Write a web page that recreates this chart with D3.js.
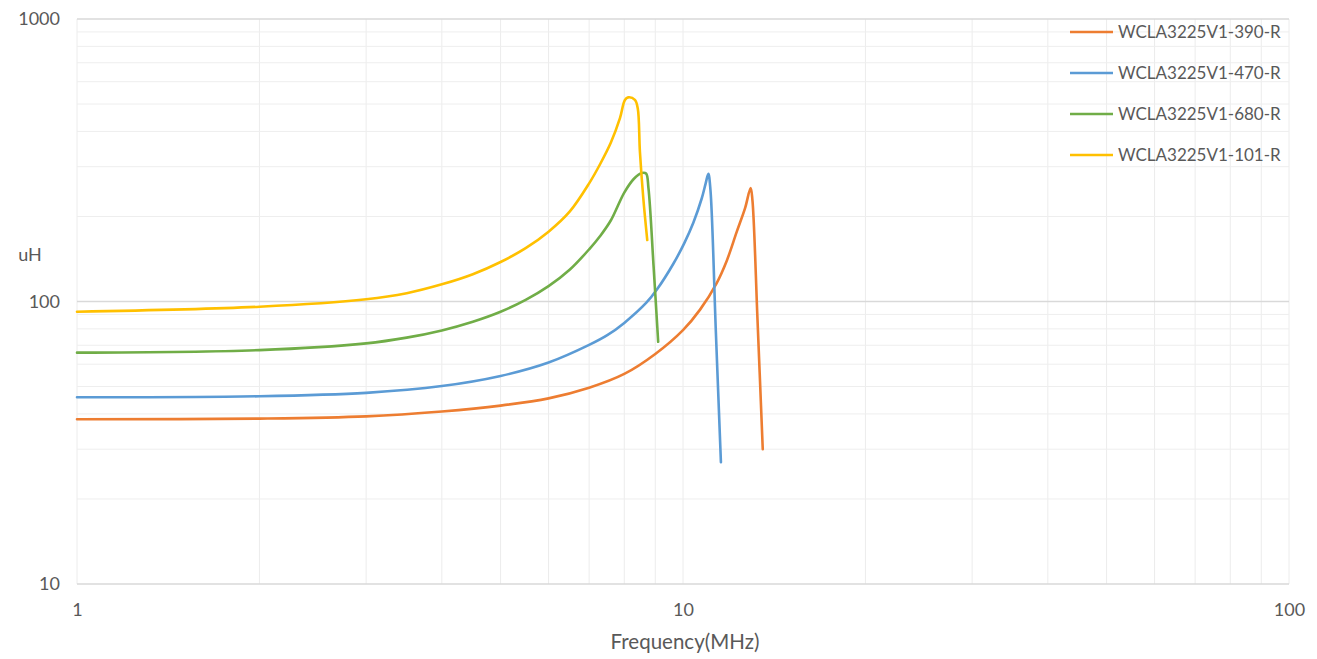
<!DOCTYPE html>
<html>
<head>
<meta charset="utf-8">
<script src="https://cdn.jsdelivr.net/npm/d3@7"></script>
<style>
  html, body { margin: 0; padding: 0; background: #fff; }
  svg { display: block; }
  text { font-family: Lato, "Open Sans", sans-serif; fill: #595959; }
</style>
</head>
<body>
<svg id="chart" width="1317" height="659"></svg>
<script>
// ---- data ----
const seriesNames = ["WCLA3225V1-390-R", "WCLA3225V1-470-R", "WCLA3225V1-680-R", "WCLA3225V1-101-R"];
const seriesColors = ["#ED7D31", "#5B9BD5", "#70AD47", "#FFC000"];

const freq390 = [1, 2, 3, 4, 5, 6, 7, 8, 9, 10, 10.67, 11.36, 11.81, 12.26, 12.66, 12.93, 13.02, 13.27, 13.54];
const val390  = [38.3, 38.5, 39.2, 40.8, 42.8, 45.4, 49.5, 55.4, 65.2, 79.2, 93.6, 116, 139.5, 176, 214, 252, 228, 87, 30];

const freq470 = [1, 2, 3, 4, 5, 6, 7, 7.5, 8, 8.7, 9.05, 9.64, 10.05, 10.4, 10.74, 10.9, 11.01, 11.1, 11.33, 11.55];
const val470  = [45.8, 46.2, 47.5, 50.2, 54.5, 60.8, 70.2, 76, 84, 99, 110, 136, 161, 190, 232, 262, 283, 248, 78, 27];

const freq680 = [1, 2, 3, 3.5, 4, 4.5, 5, 5.5, 6, 6.5, 7, 7.3, 7.6, 8, 8.3, 8.55, 8.69, 8.77, 8.94, 9.1];
const val680  = [65.9, 67.3, 71.1, 74.5, 79.0, 84.8, 92, 101.3, 113.3, 129.5, 153, 170.6, 193.5, 243, 272, 285, 284, 252, 134.6, 72];

const freq101 = [1, 2, 3, 3.5, 4, 4.5, 5, 5.5, 6, 6.5, 7, 7.3, 7.6, 7.87, 8.02, 8.12, 8.33, 8.42, 8.49, 8.6, 8.73];
const val101  = [92, 95.8, 101.8, 107, 115, 124.9, 138, 154.4, 176.6, 207.9, 261.9, 306.7, 364.6, 445.6, 517, 528, 517, 483, 339, 232, 165];

const xTickValues = [1, 10, 100];
const xTickLabels = ["1", "10", "100"];
const yTickValues = [10, 100, 1000];
const yTickLabels = ["10", "100", "1000"];
const xTitle = "Frequency(MHz)";
const yTitle = "uH";

// ---- layout ----
const svg = d3.select("#chart");
const mLeft = 77, mRight = 1289, mTop = 19, mBottom = 584;

const x = d3.scaleLog().domain([1, 100]).range([mLeft, mRight]);
const y = d3.scaleLog().domain([10, 1000]).range([mBottom, mTop]);

// gridlines
const minorX = [], minorY = [];
for (let d = 1; d < 100; d *= 10) for (let k = 2; k <= 9; k++) minorX.push(d * k);
for (let d = 10; d < 1000; d *= 10) for (let k = 2; k <= 9; k++) minorY.push(d * k);

const grid = svg.append("g");
grid.selectAll(".vx").data(minorX.concat([1, 10, 100])).join("line")
  .attr("x1", d => x(d)).attr("x2", d => x(d))
  .attr("y1", mTop).attr("y2", mBottom)
  .attr("stroke", "#ececec").attr("stroke-width", 1);
grid.selectAll(".hy").data(minorY).join("line")
  .attr("x1", mLeft).attr("x2", mRight)
  .attr("y1", d => y(d)).attr("y2", d => y(d))
  .attr("stroke", "#eeeeee").attr("stroke-width", 1);
grid.selectAll(".hmaj").data(yTickValues).join("line")
  .attr("x1", mLeft).attr("x2", mRight)
  .attr("y1", d => y(d)).attr("y2", d => y(d))
  .attr("stroke", "#d9d9d9").attr("stroke-width", 1.3);

// axes (labels only, Excel style)
const xAxis = d3.axisBottom(x).tickValues(xTickValues)
  .tickFormat((d, i) => xTickLabels[i]).tickSize(0).tickPadding(0);
const gx = svg.append("g").attr("transform", `translate(0,${mBottom})`).call(xAxis);
gx.select(".domain").remove();
gx.selectAll("text").attr("y", 26).attr("dy", "0.32em").style("font-size", "18px").style("font-family", "Lato, sans-serif").attr("fill", "#595959");

const yAxis = d3.axisLeft(y).tickValues(yTickValues)
  .tickFormat((d, i) => yTickLabels[i]).tickSize(0).tickPadding(0);
const gy = svg.append("g").attr("transform", `translate(${mLeft},0)`).call(yAxis);
gy.select(".domain").remove();
gy.selectAll("text").attr("x", -17).attr("dy", "0.32em").style("font-size", "18px").style("font-family", "Lato, sans-serif").attr("fill", "#595959");

// titles
svg.append("text").attr("x", (x(1) + x(100)) / 2 + 2).attr("y", 649)
  .attr("text-anchor", "middle").style("font-size", "20.5px").text(xTitle);
svg.append("text").attr("x", 30).attr("y", 255).attr("dy", "0.35em")
  .attr("text-anchor", "middle").style("font-size", "18px").text(yTitle);

// series
const allFreq = [freq390, freq470, freq680, freq101];
const allVal = [val390, val470, val680, val101];
const line = d3.line().x(d => x(d[0])).y(d => y(d[1])).curve(d3.curveCatmullRom.alpha(0.5));

allFreq.forEach((fs, i) => {
  const pts = fs.map((f, j) => [f, allVal[i][j]]);
  svg.append("path").datum(pts)
    .attr("d", line)
    .attr("fill", "none")
    .attr("stroke", seriesColors[i])
    .attr("stroke-width", 2.6)
    .attr("stroke-linejoin", "round")
    .attr("stroke-linecap", "round");
});

// legend
const legY = [32, 73, 114, 155];
const leg = svg.append("g");
seriesNames.forEach((n, i) => {
  leg.append("line").attr("x1", 1070).attr("x2", 1113)
    .attr("y1", legY[i]).attr("y2", legY[i])
    .attr("stroke", seriesColors[i]).attr("stroke-width", 2.6);
  leg.append("text").attr("x", 1118).attr("y", legY[i]).attr("dy", "0.35em")
    .style("font-size", "17px").text(n);
});
</script>
</body>
</html>
